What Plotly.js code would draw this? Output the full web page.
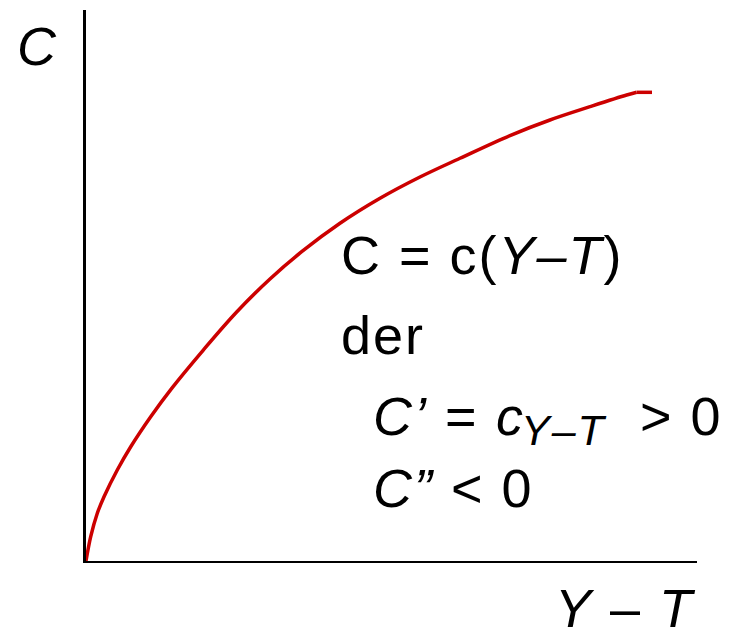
<!DOCTYPE html>
<html>
<head>
<meta charset="utf-8">
<script src="https://cdn.plot.ly/plotly-3.0.1.min.js"></script>
<style>
html,body{margin:0;padding:0;background:#fff;}
#chart{width:734px;height:631px;}
#chart .annotation-text{letter-spacing:2px;}
</style>
</head>
<body>
<div id="chart"></div>
<script>
// Disposable income (Y - T) on x, consumption C on y, axis units 0..100
const incomeX = [0, 0.77, 1.85, 2.95, 5.12, 7.32, 10.59, 14.03, 19.20, 24.66, 30.11, 35.30, 41.57, 48.12, 54.66, 61.21, 69.39, 75.94, 82.49, 88.49, 90.13, 92.64];
const consumptionY = [0, 4.41, 8.66, 11.67, 16.52, 20.74, 26.19, 31.34, 38.29, 45.19, 51.18, 56.13, 61.29, 65.83, 69.69, 73.09, 77.22, 80.04, 82.45, 84.57, 85.06, 85.06];

const yAxisLabel = '<i>C</i>';
const xAxisLabel = '<i>Y</i> – <i>T</i>';
const line1 = 'C = c(<i>Y–T</i>)';
const line2 = 'der';
const line3a = '<i>C’</i> =';
const line3c = '<i>c</i>';
const line3sub = '<i>Y–T</i>';
const line3b = '> 0';
const line4 = '<i>C”</i> < 0';

const FONT = 'Liberation Sans, Arial, sans-serif';
const RED = '#cc0000';
const SPACING = 2; // css letter-spacing in px
const n = incomeX.length;

const curve = {
  x: incomeX.slice(0, n - 1),
  y: consumptionY.slice(0, n - 1),
  type: 'scatter', mode: 'lines',
  line: {color: RED, width: 3.5, shape: 'spline', smoothing: 1},
  hoverinfo: 'skip'
};
const plateau = {
  x: incomeX.slice(n - 2),
  y: consumptionY.slice(n - 2),
  type: 'scatter', mode: 'lines',
  line: {color: RED, width: 3.5},
  hoverinfo: 'skip'
};

const L = 86, W = 611, B = 561, H = 551;
function px(xp) { return (xp - L) / W; }
function py(yp) { return (B - yp) / H; }

function ann(text, xp, yp, size) {
  // letter-spacing widens the text around its centre; shift right by half the added width
  const nChars = text.replace(/<[^>]*>/g, '').length;
  const shift = nChars * SPACING / 2;
  return {
    text: text, x: px(xp + shift), y: py(yp), xref: 'paper', yref: 'paper',
    xanchor: 'left', yanchor: 'middle', showarrow: false,
    font: {family: FONT, size: size, color: '#000'}
  };
}

const layout = {
  width: 734, height: 631,
  margin: {l: L, r: 734 - L - W, t: 10, b: 631 - B},
  paper_bgcolor: '#fff', plot_bgcolor: '#fff',
  showlegend: false,
  xaxis: {range: [0, 100], showgrid: false, zeroline: false, showticklabels: false, ticks: '',
          showline: true, linecolor: '#000', linewidth: 1.5, fixedrange: true},
  yaxis: {range: [0, 100], showgrid: false, zeroline: false, showticklabels: false, ticks: '',
          showline: true, linecolor: '#000', linewidth: 3, fixedrange: true},
  annotations: [
    ann(yAxisLabel, 15, 46, 54),
    ann(xAxisLabel, 553, 608, 54),
    ann(line1, 339, 255, 54),
    ann(line2, 339, 335, 54),
    ann(line3a, 371, 416, 54),
    ann(line3c, 494, 416, 54),
    ann(line3sub, 519, 430, 43),
    ann(line3b, 638, 416, 54),
    ann(line4, 371, 488, 54)
  ]
};

Plotly.newPlot('chart', [curve, plateau], layout, {displayModeBar: false, staticPlot: true});
</script>
</body>
</html>
